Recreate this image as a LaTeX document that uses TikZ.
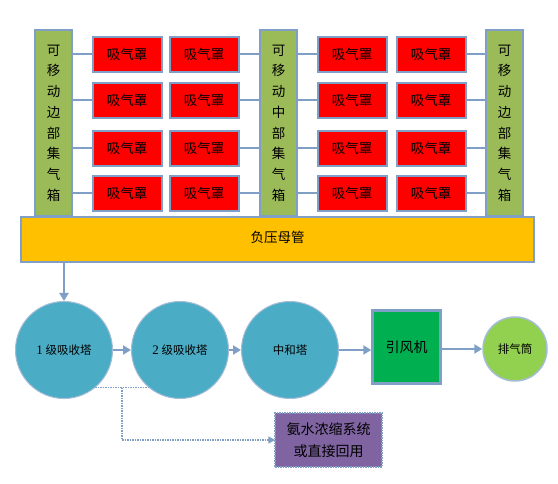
\documentclass[tikz,border=0pt]{standalone}
\usepackage{fontspec}
\setmainfont{Liberation Serif}
\newfontfamily\cjk{Noto Sans CJK SC}
\usetikzlibrary{arrows.meta,positioning,calc}
\definecolor{linec}{HTML}{7F9FC6}
\definecolor{boxc}{HTML}{9BBB59}
\definecolor{hoodc}{HTML}{FF0000}
\definecolor{pipec}{HTML}{FFC000}
\definecolor{towerc}{HTML}{4BACC6}
\definecolor{fanc}{HTML}{00B050}
\definecolor{stackc}{HTML}{92D050}
\definecolor{tankc}{HTML}{8064A2}
\tikzset{
  >={Triangle[length=8pt,width=9pt]},
  cbox/.style={draw=linec,line width=2pt,fill=boxc,minimum width=37pt,minimum height=186pt,inner sep=0pt,align=center,font=\cjk\fontsize{13.5}{20.7}\selectfont},
  hood/.style={draw=linec,line width=2pt,fill=hoodc,minimum width=69pt,minimum height=35pt,inner sep=0pt,font=\cjk\fontsize{13.5}{16}\selectfont},
  tower/.style={circle,draw=linec!70,line width=1pt,fill=towerc,minimum size=97pt,inner sep=0pt,font=\cjk\fontsize{11.5}{14}\selectfont},
  pipe/.style={draw=linec,line width=2pt},
  flow/.style={->,draw=linec,line width=2.5pt},
  dotline/.style={draw=linec,line width=1.5pt,densely dotted},
}
\begin{document}
\begin{tikzpicture}[x=1pt,y=-1pt]
  \useasboundingbox (0,0) rectangle (558,484);
  % collecting boxes
  \node[cbox] (L) at (53.5,123) {可\\移\\动\\边\\部\\集\\气\\箱};
  \node[cbox] (M) at (278.5,123) {可\\移\\动\\中\\部\\集\\气\\箱};
  \node[cbox] (R) at (504.5,123) {可\\移\\动\\边\\部\\集\\气\\箱};
  % hoods
  \foreach \r/\y in {1/54.5,2/100.5,3/148.5,4/193.5}{
    \node[hood] (a\r) at (127,\y) {吸气罩};
    \node[hood] (b\r) at (204,\y) {吸气罩};
    \node[hood] (c\r) at (352,\y) {吸气罩};
    \node[hood] (d\r) at (431,\y) {吸气罩};
    \draw[pipe] (a\r.west -| L.east) -- (a\r.west);
    \draw[pipe] (b\r.east) -- (b\r.east -| M.west);
    \draw[pipe] (c\r.west -| M.east) -- (c\r.west);
    \draw[pipe] (d\r.east) -- (d\r.east -| R.west);
  }
  \node[draw=linec,line width=2pt,fill=pipec,minimum width=513pt,minimum height=45pt,inner sep=0pt,font=\cjk\fontsize{13.5}{16}\selectfont] (P) at (277.5,239.5) {\raisebox{6pt}{负压母管}};
  % treatment line
  \node[tower] (T1) at (64,350) {{\rmfamily\fontsize{13}{14}\selectfont 1} 级吸收塔};
  \node[tower] (T2) at (180,350) {{\rmfamily\fontsize{13}{14}\selectfont 2} 级吸收塔};
  \node[tower] (T3) at (290,350) {中和塔};
  \node[draw=linec,line width=2.5pt,fill=fanc,minimum width=68pt,minimum height=73pt,inner sep=0pt,font=\cjk\fontsize{14}{16}\selectfont] (F) at (406.5,347) {引风机};
  \node[circle,draw=linec!70,line width=1.5pt,fill=stackc,minimum size=64pt,inner sep=0pt,font=\cjk\fontsize{11.5}{14}\selectfont] (S) at (515,349) {排气筒};
  \node[dotline,fill=tankc,minimum width=107pt,minimum height=54pt,inner sep=0pt,align=center,font=\cjk\fontsize{14}{22}\selectfont] (W) at (328.5,440) {氨水浓缩系统\\或直接回用};
  \draw[flow] (T1.north |- P.south) -- (T1.north);
  \draw[flow] (T1.east) -- (T2.west);
  \draw[flow] (T2.east) -- (T3.west);
  \draw[flow] (T3.east) -- (F.west |- T3.east);
  \draw[flow] (F.east |- S.west) -- (S.west);
  \draw[dotline] (T1.-50) -- (T2.-130);
  \coordinate (J) at ($(T1.-50)!0.5!(T2.-130)$);
  \draw[dotline,-{Triangle[length=7pt,width=7pt]},shorten >=-1pt] (J) |- (W.west);
\end{tikzpicture}
\end{document}
